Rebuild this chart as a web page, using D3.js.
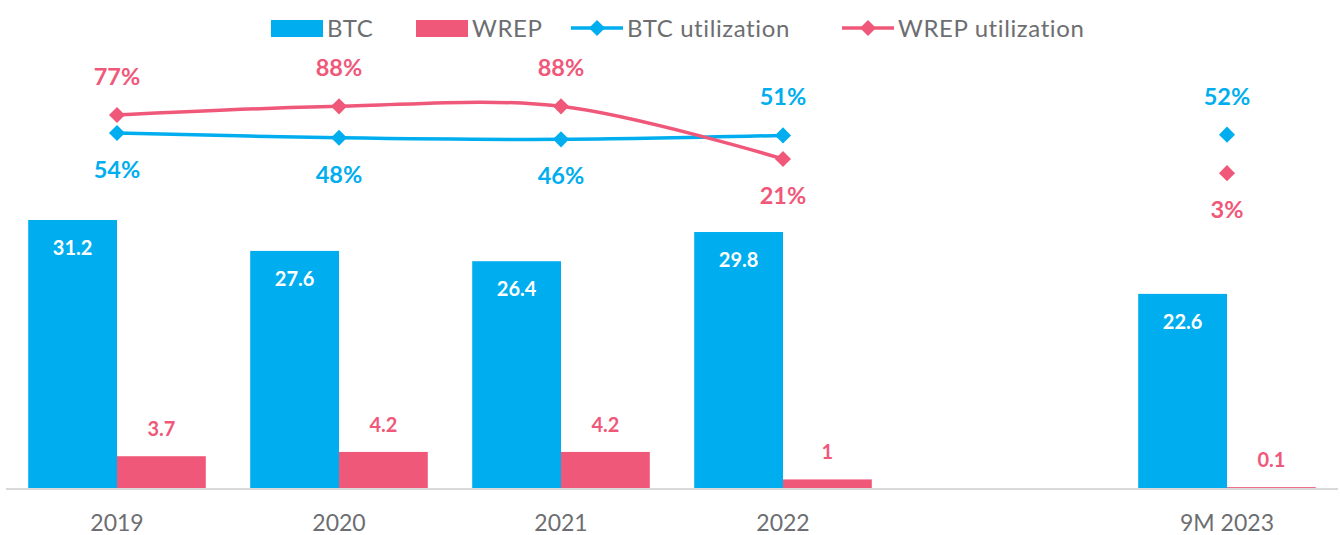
<!DOCTYPE html>
<html>
<head>
<meta charset="utf-8">
<script src="https://cdn.jsdelivr.net/npm/d3@7"></script>
<style>
  body { margin: 0; background: #fff; }
  text { font-family: Lato, "Open Sans", sans-serif; }
</style>
</head>
<body>
<script>
// Data
var categories = ['2019', '2020', '2021', '2022', '', '9M 2023'];
var btcValues = [31.2, 27.6, 26.4, 29.8, null, 22.6];
var wrepValues = [3.7, 4.2, 4.2, 1, null, 0.1];
var btcUtil = [54, 48, 46, 51, null, 52];
var wrepUtil = [77, 88, 88, 21, null, 3];
var seriesNames = ['BTC', 'WREP', 'BTC utilization', 'WREP utilization'];

// Configuration
var width = 1340, height = 535;
var blue = '#00AEEF', pink = '#F0587A', grey = '#6D6E71';
var baseline = 488;

var svg = d3.select('body').append('svg')
  .attr('width', width).attr('height', height);

var keys = categories.map(function(c, i) { return c === '' ? '_gap' + i : c; });

var x = d3.scaleBand().domain(keys).range([6, 1338])
  .paddingInner(0.2).paddingOuter(0.1);
var xSub = d3.scaleBand().domain(['btc', 'wrep']).range([0, x.bandwidth()]);
var y = d3.scaleLinear().domain([0, 35]).range([baseline, baseline - 35 * 8.59]);
var yPct = d3.scaleLinear().domain([0, 100]).range([175.5, 96.9]);

function cx(i) { return x(keys[i]) + x.bandwidth() / 2; }

// bars
var bars = [];
categories.forEach(function(c, i) {
  if (btcValues[i] != null) bars.push({ i: i, key: 'btc', v: btcValues[i] });
  if (wrepValues[i] != null) bars.push({ i: i, key: 'wrep', v: wrepValues[i] });
});

svg.append('g').selectAll('rect').data(bars).enter().append('rect')
  .attr('x', function(d) { return x(keys[d.i]) + xSub(d.key); })
  .attr('width', xSub.bandwidth())
  .attr('y', function(d) { return y(d.v); })
  .attr('height', function(d) { return baseline - y(d.v); })
  .attr('fill', function(d) { return d.key === 'btc' ? blue : pink; });

// axis line
svg.append('line')
  .attr('x1', 6).attr('x2', 1338).attr('y1', baseline + 1).attr('y2', baseline + 1)
  .attr('stroke', '#D9D9D9').attr('stroke-width', 2);

// bar labels
svg.append('g').selectAll('text').data(bars).enter().append('text')
  .attr('x', function(d) { return x(keys[d.i]) + xSub(d.key) + xSub.bandwidth() / 2; })
  .attr('y', function(d) { return d.key === 'btc' ? y(d.v) + 35 : y(d.v) - 20; })
  .attr('text-anchor', 'middle')
  .attr('font-size', 20).attr('font-weight', 'bold')
  .attr('fill', function(d) { return d.key === 'btc' ? '#fff' : pink; })
  .text(function(d) { return d.v; });

// x tick labels
var xAxis = d3.axisBottom(x).tickSize(0).tickPadding(0)
  .tickFormat(function(k) { return k.indexOf('_gap') === 0 ? '' : k; });
var gx = svg.append('g').attr('transform', 'translate(0,' + (baseline + 27) + ')').call(xAxis);
gx.select('.domain').remove();
gx.selectAll('text').attr('font-size', 23).attr('fill', grey)
  .style('font-family', 'Lato, "Open Sans", sans-serif').attr('dy', '0.7em');

// utilization lines
var line = d3.line()
  .defined(function(d) { return d.v != null; })
  .x(function(d) { return cx(d.i); })
  .y(function(d) { return yPct(d.v); })
  .curve(d3.curveCatmullRom.alpha(0.5));

var diamond = d3.symbol().type(d3.symbolDiamond2).size(165);

function drawUtil(values, color, above) {
  var pts = values.map(function(v, i) { return { i: i, v: v }; });
  svg.append('path').datum(pts)
    .attr('d', line).attr('fill', 'none')
    .attr('stroke', color).attr('stroke-width', 3.5);
  var valid = pts.filter(function(d) { return d.v != null; });
  svg.append('g').selectAll('path').data(valid).enter().append('path')
    .attr('d', diamond)
    .attr('transform', function(d) { return 'translate(' + cx(d.i) + ',' + yPct(d.v) + ')'; })
    .attr('fill', color);
  svg.append('g').selectAll('text').data(valid).enter().append('text')
    .attr('x', function(d) { return cx(d.i); })
    .attr('y', function(d) { return yPct(d.v) + (above(d.i) ? -30 : 45); })
    .attr('text-anchor', 'middle')
    .attr('font-size', 23.5).attr('font-weight', 'bold')
    .attr('fill', color)
    .text(function(d) { return d.v + '%'; });
}

drawUtil(btcUtil, blue, function(i) { return i >= 3; });
drawUtil(wrepUtil, pink, function(i) { return i < 3; });

// legend
var legend = svg.append('g');
var legendItems = [
  { name: seriesNames[0], color: blue, type: 'bar', x: 271 },
  { name: seriesNames[1], color: pink, type: 'bar', x: 416 },
  { name: seriesNames[2], color: blue, type: 'line', x: 571 },
  { name: seriesNames[3], color: pink, type: 'line', x: 842 }
];
legendItems.forEach(function(d) {
  var g = legend.append('g').attr('transform', 'translate(' + d.x + ',28)');
  if (d.type === 'bar') {
    g.append('rect').attr('x', 0).attr('y', -8).attr('width', 52).attr('height', 17).attr('fill', d.color);
  } else {
    g.append('line').attr('x1', 0).attr('x2', 52).attr('y1', 0).attr('y2', 0)
      .attr('stroke', d.color).attr('stroke-width', 3.5);
    g.append('path').attr('d', diamond).attr('transform', 'translate(26,0)').attr('fill', d.color);
  }
  g.append('text').attr('x', 56).attr('y', 0).attr('dy', '0.36em')
    .attr('font-size', 24).attr('fill', grey)
    .style('letter-spacing', '0.6px')
    .text(d.name);
});
</script>
</body>
</html>
